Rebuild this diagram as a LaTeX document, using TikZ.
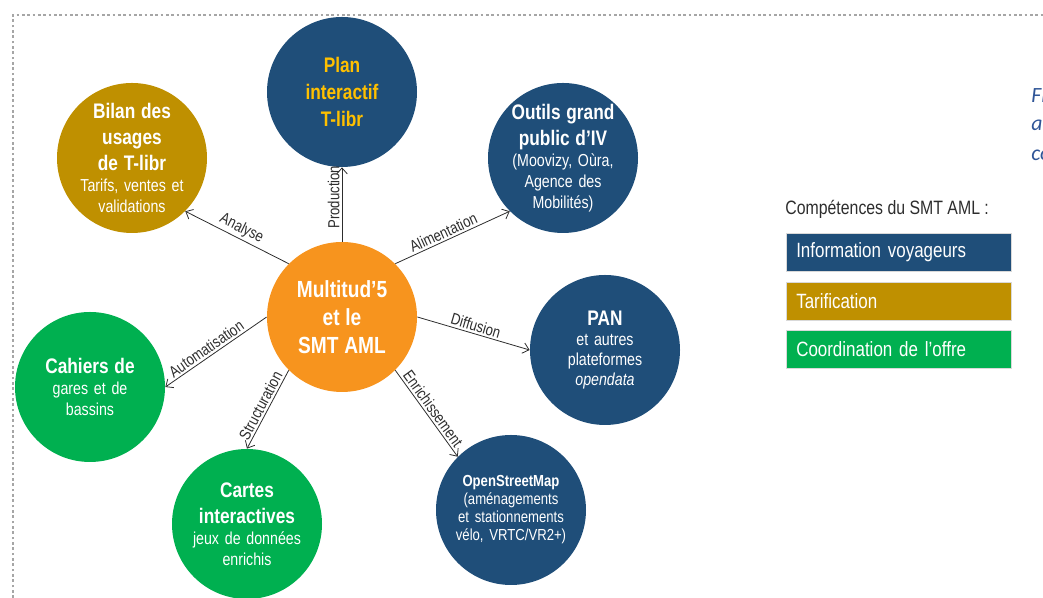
\documentclass[tikz,border=0pt]{standalone}
\usepackage{fontspec}
\setmainfont{Liberation Sans}[FakeStretch=0.82]
\newfontfamily\captfont{Carlito}
\usetikzlibrary{arrows.meta}

\definecolor{smtBlue}{RGB}{31,78,121}
\definecolor{smtGold}{RGB}{191,144,0}
\definecolor{smtGreen}{RGB}{0,176,80}
\definecolor{smtOrange}{RGB}{247,148,30}
\definecolor{smtYellow}{RGB}{255,192,0}
\definecolor{frameGray}{RGB}{166,166,166}
\definecolor{captBlue}{RGB}{47,85,151}
\definecolor{linkGray}{RGB}{45,45,45}

\newcommand\bubHead{\fontsize{15.8}{19.5}\selectfont\bfseries}
\newcommand\bubText{\fontsize{13}{15.75}\selectfont}

\tikzset{every picture/.style={line width=0.55pt}}
\tikzset{
  bubble/.style={circle, minimum size=112.5pt, inner sep=-16pt, text width=104pt,
    align=center, text=white, font=\bubText},
  link/.style={draw=linkGray, line width=0.6pt, -{Straight Barb[length=4.5pt,width=8pt]}},
  linkLabel/.style={above, sloped, inner sep=1.5pt, text=linkGray,
    font=\fontsize{12}{14}\selectfont},
  legBox/.style={anchor=north west, minimum height=28.5pt, text width=153.75pt,
    inner xsep=7.5pt, inner ysep=0pt, align=left, text=white, draw=white!85!black,
    line width=0.4pt, font=\fontsize{15.5}{18}\selectfont}
}

\begin{document}
\begin{tikzpicture}[x=0.75pt,y=0.75pt]
  \useasboundingbox (0,0) rectangle (1043,598);
  %Dotted frame
  \draw [frameGray, line width=2pt, dash pattern={on 2pt off 2pt}] (13,0) -- (13,583) -- (1043,583) ;
  % Bubbles
  \node [bubble, fill=smtOrange] (multitud) at (342,281) {\fontsize{17.5}{21}\selectfont\bfseries Multitud’5\\et le\\SMT AML\par};
  \node [bubble, fill=smtBlue, text=smtYellow] (plan) at (342,506) {\fontsize{15.8}{20}\selectfont\bfseries Plan\\interactif\\T-libr\par};
  \node [bubble, fill=smtGold] (bilan) at (132,440) {{\bubHead Bilan des\\usages\\de T-libr\par}Tarifs, ventes et\\validations};
  \node [bubble, fill=smtBlue] (outils) at (563,440) {{\bubHead Outils grand\\public d’IV\par}(Moovizy, Oùra,\\Agence des\\Mobilités)};
  \node [bubble, fill=smtBlue] (pan) at (605,248) {{\bubHead PAN\par}\fontsize{13}{15}\selectfont et autres\\plateformes\\\textit{opendata}\par};
  \node [bubble, fill=smtBlue] (osm) at (511,88) {{\fontsize{12}{13.5}\selectfont\bfseries OpenStreetMap\par}\fontsize{12}{13.5}\selectfont(aménagements\\et stationnements\\vélo, VRTC/VR2+)\par};
  \node [bubble, fill=smtGreen] (cartes) at (247,74) {{\bubHead Cartes\\interactives\par}jeux de données\\enrichis};
  \node [bubble, fill=smtGreen] (cahiers) at (90,211) {{\bubHead Cahiers de\par}gares et de\\bassins};
  %Straight Lines
  \draw [link] (multitud.north west) -- node [linkLabel] {Analyse} (bilan.south east) ;
  \draw [link] (multitud.north) -- node [linkLabel, pos=0.6] {Production} (plan.south) ;
  \draw [link] (multitud.north east) -- node [linkLabel, pos=0.45] {Alimentation} (outils.south west) ;
  \draw [link] (multitud.east) -- node [linkLabel] {Diffusion} (pan.west) ;
  \draw [link] (multitud.south east) -- node [linkLabel] {Enrichissement} (osm.north west) ;
  \draw [link] (multitud.west) -- node [linkLabel, pos=0.55] {Automatisation} (cahiers.east) ;
  \draw [link] (multitud.south west) -- node [linkLabel] {Structuration} (cartes.north) ;
  % Text Node
  \node [anchor=west, inner sep=0.75pt, text=linkGray, font=\fontsize{14.5}{17}\selectfont] (legTitle) at (784,389) {Compétences du SMT AML :};
  % Legend boxes
  \node [legBox, fill=smtBlue] (legInfo) at (786,365) {Information voyageurs};
  \node [legBox, fill=smtGold] (legTarif) at (786,316) {Tarification};
  \node [legBox, fill=smtGreen] (legCoord) at (786,268) {Coordination de l’offre};
  % Text Node
  \node [anchor=west, inner sep=0.75pt, text=captBlue, font=\captfont\itshape\fontsize{16.3}{20}\selectfont] (capA) at (1030,503) {Fi};
  \node [anchor=west, inner sep=0.75pt, text=captBlue, font=\captfont\itshape\fontsize{16.3}{20}\selectfont] (capB) at (1030,473) {ac};
  \node [anchor=west, inner sep=0.75pt, text=captBlue, font=\captfont\itshape\fontsize{16.3}{20}\selectfont] (capC) at (1030,443) {co};
\end{tikzpicture}
\end{document}
